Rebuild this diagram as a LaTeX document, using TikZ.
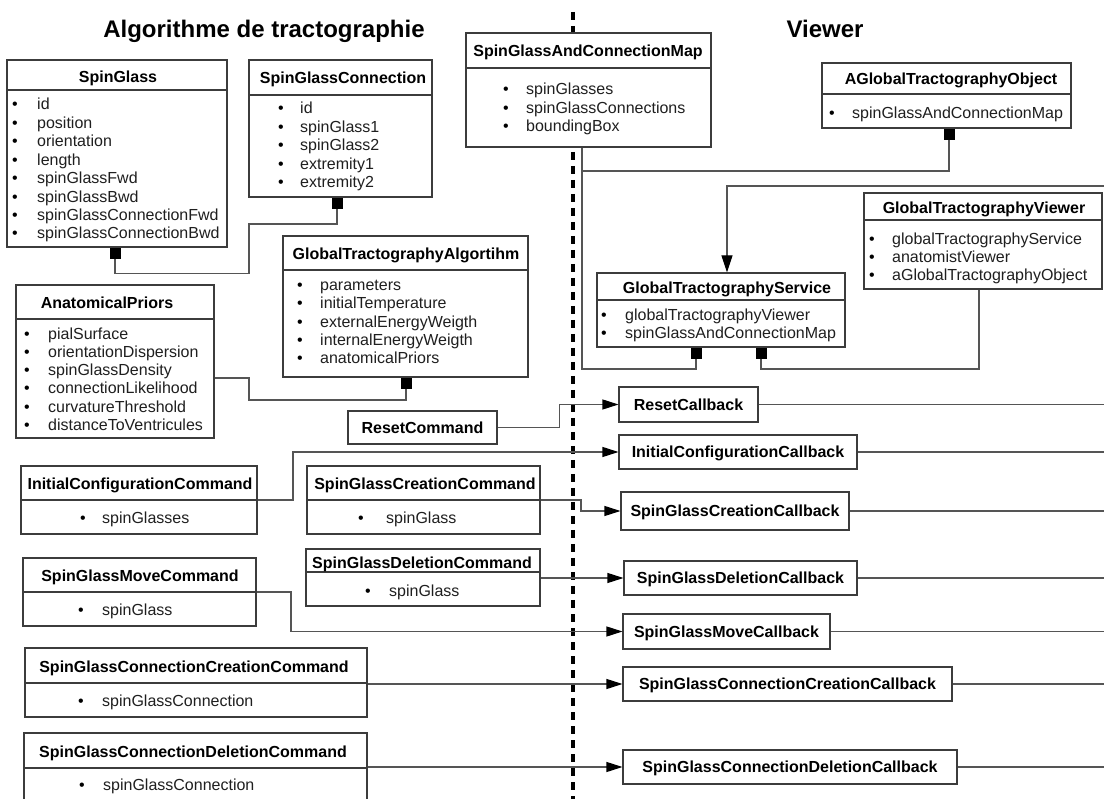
\documentclass[tikz,border=0pt]{standalone}
\usepackage{fontspec}
\setmainfont{Liberation Sans}
\usetikzlibrary{arrows.meta,fit}
\definecolor{boxc}{RGB}{60,60,60}
\definecolor{linec}{RGB}{85,85,85}
\newcommand\nfont{\fontsize{16pt}{18pt}\selectfont}
\newcounter{itmc}
\newcommand\clsbox[9]{%
  \node[umlbox, fit={(#2,#3) (#4,#5)}] (#1) {};
  \draw[boxline] (#1.west |- 0,#6) -- (#1.east |- 0,#6);
  \node[hdr] (#1h) at (#7,#8) {#9};
}
\newcommand\itm[4]{%
  \stepcounter{itmc}%
  \node[bul] (b\arabic{itmc}) at (#1,#3) {•};
  \node[itx] (t\arabic{itmc}) at (#2,#3) {#4};
}
\tikzset{
 umlbox/.style={draw=boxc, line width=1.1pt, fill=white, inner sep=0pt},
 boxline/.style={draw=boxc, line width=1.1pt},
 hdr/.style={font=\nfont\bfseries, anchor=base, yshift=-5.6pt, inner sep=0pt},
 bul/.style={font=\nfont, anchor=base, yshift=-5.5pt, inner sep=0pt},
 itx/.style={font=\nfont, anchor=base west, yshift=-5.5pt, inner sep=0pt, text=black!88},
 cbbox/.style={draw=boxc, line width=1.1pt, fill=white, font=\nfont\bfseries, inner sep=0pt, text height=11.6pt, text depth=0pt},
 conn/.style={draw=linec, line width=1.1pt},
 arr/.style={-{Triangle[length=16pt,width=10pt,color=black]}},
 arrd/.style={-{Triangle[length=17pt,width=11pt,color=black]}},
 sq/.style={fill=black, minimum size=11pt, inner sep=0pt, anchor=north},
 title/.style={font=\fontsize{24pt}{28pt}\selectfont\bfseries, inner sep=0pt, anchor=base},
 divider/.style={line width=4pt, dash pattern=on 8pt off 6pt, draw=black}
}
\begin{document}
\begin{tikzpicture}[x=1pt,y=-1pt]
\fill[white] (0,0) rectangle (1104,799);
\useasboundingbox (0,0) rectangle (1104,799);
\draw[divider] (573,12) -- (573,805);
\node[title] (tl) at (264,37.5) {Algorithme de tractographie};
\node[title] (tr) at (825,37.5) {Viewer};

% SpinGlass
\clsbox{sg}{7}{60}{227}{247}{90}{118}{76.5}{SpinGlass}
\itm{15}{37}{104}{id}
\itm{15}{37}{123}{position}
\itm{15}{37}{141.5}{orientation}
\itm{15}{37}{160}{length}
\itm{15}{37}{178.5}{spinGlassFwd}
\itm{15}{37}{197}{spinGlassBwd}
\itm{15}{37}{215}{spinGlassConnectionFwd}
\itm{15}{37}{233.5}{spinGlassConnectionBwd}

% SpinGlassConnection
\clsbox{sgc}{249}{60}{432}{197}{95}{343}{78}{SpinGlassConnection}
\itm{281}{300}{108}{id}
\itm{281}{300}{127}{spinGlass1}
\itm{281}{300}{145.5}{spinGlass2}
\itm{281}{300}{164}{extremity1}
\itm{281}{300}{182.5}{extremity2}

% GlobalTractographyAlgortihm
\clsbox{gta}{283}{236}{528}{377}{270}{406}{253.5}{GlobalTractographyAlgortihm}
\itm{300}{320}{285}{parameters}
\itm{300}{320}{303.5}{initialTemperature}
\itm{300}{320}{322}{externalEnergyWeigth}
\itm{300}{320}{340}{internalEnergyWeigth}
\itm{300}{320}{358.5}{anatomicalPriors}

% AnatomicalPriors
\clsbox{ap}{16}{285}{214}{438}{319}{107}{303}{AnatomicalPriors}
\itm{27}{48}{334}{pialSurface}
\itm{27}{48}{352.5}{orientationDispersion}
\itm{27}{48}{370.5}{spinGlassDensity}
\itm{27}{48}{388.5}{connectionLikelihood}
\itm{27}{48}{407}{curvatureThreshold}
\itm{27}{48}{425}{distanceToVentricules}

% SpinGlassAndConnectionMap
\clsbox{sgacm}{466}{33}{711}{147}{68}{588}{51}{SpinGlassAndConnectionMap}
\itm{506}{526}{89}{spinGlasses}
\itm{506}{526}{108}{spinGlassConnections}
\itm{506}{526}{126.5}{boundingBox}

% AGlobalTractographyObject
\clsbox{agto}{822}{63}{1071}{128}{94}{951}{79}{AGlobalTractographyObject}
\itm{832}{852}{113}{spinGlassAndConnectionMap}

% GlobalTractographyViewer
\clsbox{gtv}{864}{193}{1102}{289}{220}{984}{208}{GlobalTractographyViewer}
\itm{872}{892}{239}{globalTractographyService}
\itm{872}{892}{257}{anatomistViewer}
\itm{872}{892}{275.5}{aGlobalTractographyObject}

% GlobalTractographyService
\clsbox{gts}{597}{273}{845}{347}{300}{727}{288}{GlobalTractographyService}
\itm{604}{625}{315}{globalTractographyViewer}
\itm{604}{625}{333}{spinGlassAndConnectionMap}

% Commands
\node[cbbox, minimum width=149pt, minimum height=33pt] (rc) at (422.5,427.5) {ResetCommand};
\clsbox{icc}{21}{466}{257}{534}{500}{140}{484}{InitialConfigurationCommand}
\itm{83}{102}{518}{spinGlasses}
\clsbox{sgcc}{307}{466}{540}{534}{500}{425}{484}{SpinGlassCreationCommand}
\itm{361}{386}{518}{spinGlass}
\clsbox{sgdc}{306}{549}{540}{606}{572}{422}{563}{SpinGlassDeletionCommand}
\itm{368}{389}{591}{spinGlass}
\clsbox{sgmc}{23}{558}{256}{626}{592}{140}{576}{SpinGlassMoveCommand}
\itm{81}{102}{610}{spinGlass}
\clsbox{sgccc}{25}{648}{367}{717}{683}{194}{667}{SpinGlassConnectionCreationCommand}
\itm{81}{102}{701}{spinGlassConnection}
\clsbox{sgcdc}{24}{733}{367}{805}{768}{193}{752}{SpinGlassConnectionDeletionCommand}
\itm{82}{103}{785}{spinGlassConnection}

% Callbacks
\node[cbbox, minimum width=139pt, minimum height=35pt] (rcb) at (688.5,404.5) {ResetCallback};
\node[cbbox, minimum width=238pt, minimum height=34pt] (iccb) at (738,452) {InitialConfigurationCallback};
\node[cbbox, minimum width=228pt, minimum height=38pt] (sgccb) at (735,511) {SpinGlassCreationCallback};
\node[cbbox, minimum width=233pt, minimum height=34pt] (sgdcb) at (740.5,578) {SpinGlassDeletionCallback};
\node[cbbox, minimum width=207pt, minimum height=35pt] (sgmcb) at (726.5,631.5) {SpinGlassMoveCallback};
\node[cbbox, minimum width=329pt, minimum height=34pt] (sgcccb) at (787.5,684) {SpinGlassConnectionCreationCallback};
\node[cbbox, minimum width=334pt, minimum height=34pt] (sgcdcb) at (790,767) {SpinGlassConnectionDeletionCallback};

% composition squares
\node[sq] (s1) at (sg.south -| 115,0) {};
\node[sq] (s2) at (sgc.south -| 337,0) {};
\node[sq] (s3) at (gta.south -| 406,0) {};
\node[sq] (s4) at (agto.south -| 949,0) {};
\node[sq] (s5) at (gts.south -| 696,0) {};
\node[sq] (s6) at (gts.south -| 761,0) {};

% connectors
\draw[conn] (s1.south) -- ++(0,15) -| (249,224) -| (s2.south);
\draw[conn] (ap.east |- 0,378) -| (249,400) -| (s3.south);
\coordinate (br) at (582,171);
\draw[conn] (sgacm.south -| br) -- (582,369) -| (s5.south);
\draw[conn] (br) -| (s4.south);
\draw[conn] (gtv.south -| 979,0) -- (979,369) -| (s6.south);
\coordinate (rt) at (1104,186);
\draw[conn,arrd] (rt) -| (gts.north -| 727,0);

\draw[conn,arr] (rc.east) -- ++(62,0) |- (rcb.west);
\draw[conn,arr] (icc.east |- 0,500) -- (293,500) |- (iccb.west);
\draw[conn,arr] (sgcc.east |- 0,500) -- (581,500) |- (sgccb.west);
\draw[conn,arr] (sgdc.east |- sgdcb.west) -- (sgdcb.west);
\draw[conn,arr] (sgmc.east |- 0,592) -- (291,592) |- (sgmcb.west);
\draw[conn,arr] (sgccc.east |- sgcccb.west) -- (sgcccb.west);
\draw[conn,arr] (sgcdc.east |- sgcdcb.west) -- (sgcdcb.west);

\foreach \n in {rcb,iccb,sgccb,sgdcb,sgmcb,sgcccb,sgcdcb}
  \draw[conn] (\n.east) -- (\n.east -| rt);
\end{tikzpicture}
\end{document}
